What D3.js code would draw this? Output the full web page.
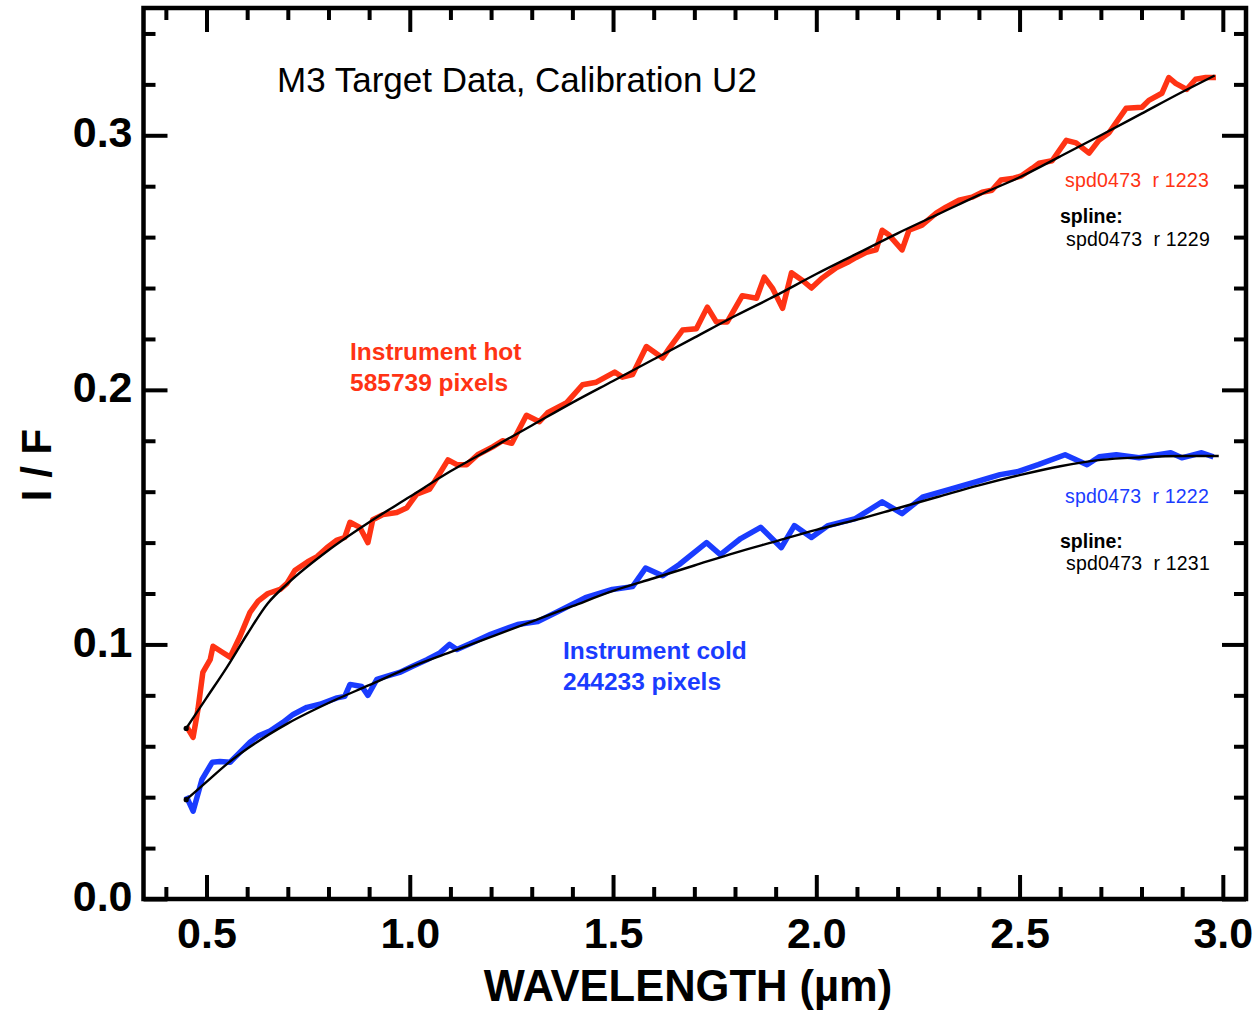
<!DOCTYPE html>
<html>
<head>
<meta charset="utf-8">
<script src="https://cdn.jsdelivr.net/npm/d3@7"></script>
<style>
  html, body { margin: 0; padding: 0; background: #ffffff; }
  svg { display: block; }
  text { font-family: "Liberation Sans", Arial, Helvetica, sans-serif; }
</style>
</head>
<body>
<svg id="chart" width="1260" height="1010"></svg>
<script>
// ---------------- DATA ----------------
const xMajorTicks = [0.5, 1.0, 1.5, 2.0, 2.5, 3.0];
const xTickLabels = ["0.5", "1.0", "1.5", "2.0", "2.5", "3.0"];
const yMajorTicks = [0.0, 0.1, 0.2, 0.3];
const yTickLabels = ["0.0", "0.1", "0.2", "0.3"];

// Instrument hot (red) measured spectrum: [wavelength µm, I/F]
const hotWave = [0.450,0.467,0.479,0.491,0.509,0.516,0.538,0.558,0.582,0.607,0.627,0.651,0.681,0.698,0.717,0.749,0.772,0.796,0.821,0.840,0.853,0.877,0.897,0.909,0.934,0.968,0.993,1.017,1.049,1.069,1.094,1.116,1.140,1.167,1.204,1.228,1.251,1.287,1.319,1.339,1.386,1.425,1.459,1.504,1.523,1.548,1.582,1.622,1.639,1.671,1.705,1.732,1.754,1.781,1.818,1.853,1.872,1.892,1.917,1.939,1.966,1.988,2.015,2.049,2.076,2.098,2.123,2.147,2.162,2.179,2.211,2.228,2.260,2.295,2.319,2.351,2.383,2.408,2.432,2.454,2.482,2.504,2.531,2.548,2.580,2.615,2.639,2.671,2.695,2.720,2.762,2.801,2.818,2.850,2.867,2.884,2.911,2.933,2.958,2.983];
const hotIF   = [0.0680,0.0635,0.0745,0.0890,0.0940,0.0993,0.0970,0.0950,0.1030,0.1126,0.1170,0.1200,0.1216,0.1240,0.1290,0.1325,0.1345,0.1380,0.1410,0.1420,0.1480,0.1460,0.1400,0.1490,0.1510,0.1518,0.1537,0.1590,0.1610,0.1660,0.1725,0.1706,0.1706,0.1745,0.1776,0.1800,0.1790,0.1900,0.1875,0.1910,0.1950,0.2020,0.2030,0.2070,0.2050,0.2060,0.2170,0.2125,0.2165,0.2235,0.2240,0.2325,0.2267,0.2267,0.2370,0.2360,0.2443,0.2400,0.2320,0.2460,0.2430,0.2400,0.2440,0.2480,0.2500,0.2520,0.2540,0.2550,0.2627,0.2608,0.2550,0.2627,0.2647,0.2694,0.2718,0.2745,0.2757,0.2776,0.2784,0.2824,0.2830,0.2840,0.2870,0.2890,0.2900,0.2980,0.2970,0.2930,0.2980,0.3010,0.3106,0.3110,0.3137,0.3165,0.3227,0.3204,0.3180,0.3220,0.3227,0.3227];

// Instrument hot spline fit (black)
const hotSplineWave = [0.45,0.50,0.55,0.60,0.65,0.70,0.80,0.90,1.00,1.10,1.20,1.30,1.40,1.50,1.60,1.70,1.80,1.90,2.00,2.10,2.20,2.30,2.40,2.50,2.60,2.70,2.80,2.90,2.98];
const hotSplineIF   = [0.067,0.079,0.091,0.104,0.116,0.124,0.137,0.148,0.158,0.168,0.177,0.186,0.195,0.2035,0.212,0.2205,0.229,0.237,0.2455,0.2535,0.2615,0.269,0.2765,0.2835,0.2917,0.300,0.3085,0.317,0.3235];

// Instrument cold (blue) measured spectrum
const coldWave = [0.450,0.467,0.489,0.514,0.533,0.558,0.582,0.607,0.627,0.656,0.688,0.713,0.747,0.779,0.821,0.840,0.853,0.882,0.897,0.919,0.943,0.975,1.007,1.042,1.074,1.098,1.116,1.155,1.199,1.265,1.315,1.366,1.432,1.498,1.548,1.580,1.622,1.663,1.730,1.764,1.814,1.863,1.914,1.946,1.988,2.029,2.096,2.162,2.211,2.263,2.330,2.396,2.452,2.494,2.546,2.612,2.666,2.696,2.738,2.794,2.872,2.899,2.948,2.977];
const coldIF   = [0.0404,0.0345,0.0470,0.0537,0.0540,0.0537,0.0576,0.0616,0.0640,0.0660,0.0694,0.0725,0.0753,0.0765,0.0790,0.0796,0.0843,0.0835,0.0800,0.0863,0.0875,0.0890,0.0914,0.0940,0.0967,0.1000,0.0980,0.1008,0.1040,0.1078,0.1090,0.1130,0.1184,0.1216,0.1227,0.1300,0.1270,0.1314,0.1400,0.1353,0.1416,0.1460,0.1380,0.1467,0.1420,0.1467,0.1494,0.1560,0.1514,0.1580,0.1610,0.1640,0.1667,0.1678,0.1706,0.1745,0.1706,0.1737,0.1745,0.1733,0.1753,0.1733,0.1753,0.1737];

// Instrument cold spline fit (black)
const coldSplineWave = [0.45,0.50,0.55,0.60,0.70,0.80,0.90,1.00,1.10,1.20,1.30,1.40,1.50,1.60,1.70,1.80,1.90,2.00,2.10,2.20,2.30,2.40,2.50,2.60,2.70,2.80,2.90,2.99];
const coldSplineIF   = [0.039,0.046,0.053,0.059,0.069,0.077,0.084,0.091,0.097,0.103,0.109,0.115,0.121,0.126,0.131,0.136,0.1405,0.145,0.149,0.1535,0.158,0.1625,0.1665,0.170,0.1725,0.1735,0.174,0.174];

// ---------------- CHART ----------------
const RED = "#ff3314";
const BLUE = "#1a3cff";
const svg = d3.select("#chart");

const x = d3.scaleLinear().domain([0.345, 3.057]).range([143.5, 1246]);
const y = d3.scaleLinear().domain([0, 0.35]).range([899, 8]);

const zip = (a, b) => a.map((v, i) => [v, b[i]]);
const line = d3.line().x(d => x(d[0])).y(d => y(d[1]));
const smooth = d3.line().x(d => x(d[0])).y(d => y(d[1])).curve(d3.curveMonotoneX);

// data lines
svg.append("path").datum(zip(hotWave, hotIF))
  .attr("d", line).attr("fill", "none").attr("stroke", RED)
  .attr("stroke-width", 5.5).attr("stroke-linejoin", "round");
svg.append("path").datum(zip(coldWave, coldIF))
  .attr("d", line).attr("fill", "none").attr("stroke", BLUE)
  .attr("stroke-width", 5.5).attr("stroke-linejoin", "round");

// spline fits
[[hotSplineWave, hotSplineIF], [coldSplineWave, coldSplineIF]].forEach(([w, v]) => {
  svg.append("path").datum(zip(w, v))
    .attr("d", smooth).attr("fill", "none").attr("stroke", "#000")
    .attr("stroke-width", 2.4);
  svg.append("circle").attr("cx", x(w[0])).attr("cy", y(v[0])).attr("r", 2.6).attr("fill", "#000");
});

// axes (ticks inward on all four sides)
const xMinor = d3.range(4, 31).map(d => d / 10).filter(d => !xMajorTicks.some(m => Math.abs(m - d) < 1e-9));
const yMinor = d3.range(1, 18).map(d => d * 0.02).filter(d => !yMajorTicks.some(m => Math.abs(m - d) < 1e-9));

function styleAxis(g) {
  g.select(".domain").remove();
  g.selectAll(".tick line").attr("stroke", "#000").attr("stroke-width", 4);
}

const yb = y(0), yt = y(0.35), xl = x(0.345), xr = x(3.057);

// bottom
svg.append("g").attr("transform", `translate(0,${yb})`)
  .call(d3.axisBottom(x).tickValues(xMajorTicks).tickSizeInner(-24).tickSizeOuter(0)
    .tickPadding(18).tickFormat((d, i) => xTickLabels[i]))
  .call(styleAxis)
  .call(g => g.selectAll("text").attr("fill", "#000").attr("font-size", 43).attr("font-weight", "bold").attr("dy", "0.71em"));
svg.append("g").attr("transform", `translate(0,${yb})`)
  .call(d3.axisBottom(x).tickValues(xMinor).tickSizeInner(-12).tickSizeOuter(0).tickFormat(""))
  .call(styleAxis);
// top
svg.append("g").attr("transform", `translate(0,${yt})`)
  .call(d3.axisTop(x).tickValues(xMajorTicks).tickSizeInner(-24).tickSizeOuter(0).tickFormat(""))
  .call(styleAxis);
svg.append("g").attr("transform", `translate(0,${yt})`)
  .call(d3.axisTop(x).tickValues(xMinor).tickSizeInner(-12).tickSizeOuter(0).tickFormat(""))
  .call(styleAxis);
// left
svg.append("g").attr("transform", `translate(${xl},0)`)
  .call(d3.axisLeft(y).tickValues(yMajorTicks).tickSizeInner(-24).tickSizeOuter(0)
    .tickPadding(11).tickFormat((d, i) => yTickLabels[i]))
  .call(styleAxis)
  .call(g => g.selectAll("text").attr("fill", "#000").attr("font-size", 43).attr("font-weight", "bold").attr("dy", "0.27em"));
svg.append("g").attr("transform", `translate(${xl},0)`)
  .call(d3.axisLeft(y).tickValues(yMinor).tickSizeInner(-12).tickSizeOuter(0).tickFormat(""))
  .call(styleAxis);
// right
svg.append("g").attr("transform", `translate(${xr},0)`)
  .call(d3.axisRight(y).tickValues(yMajorTicks).tickSizeInner(-24).tickSizeOuter(0).tickFormat(""))
  .call(styleAxis);
svg.append("g").attr("transform", `translate(${xr},0)`)
  .call(d3.axisRight(y).tickValues(yMinor).tickSizeInner(-12).tickSizeOuter(0).tickFormat(""))
  .call(styleAxis);

// frame
svg.append("rect").attr("x", xl).attr("y", yt).attr("width", xr - xl).attr("height", yb - yt)
  .attr("fill", "none").attr("stroke", "#000").attr("stroke-width", 4.5);

// axis titles
svg.append("text").attr("x", 688).attr("y", 1001).attr("text-anchor", "middle")
  .attr("font-size", 43.5).attr("font-weight", "bold").text("WAVELENGTH (µm)");
svg.append("text").attr("transform", "translate(51,465) rotate(-90)").attr("text-anchor", "middle")
  .attr("font-size", 42).attr("font-weight", "bold").text("I / F");

// annotations
svg.append("text").attr("x", 277).attr("y", 92).attr("font-size", 35).attr("fill", "#000")
  .text("M3 Target Data, Calibration U2");

svg.append("text").attr("x", 350).attr("y", 360).attr("font-size", 24.5).attr("font-weight", "bold")
  .attr("fill", RED).text("Instrument hot");
svg.append("text").attr("x", 350).attr("y", 391).attr("font-size", 24.5).attr("font-weight", "bold")
  .attr("fill", RED).text("585739 pixels");

svg.append("text").attr("x", 563).attr("y", 659).attr("font-size", 24.5).attr("font-weight", "bold")
  .attr("fill", BLUE).text("Instrument cold");
svg.append("text").attr("x", 563).attr("y", 690).attr("font-size", 24.5).attr("font-weight", "bold")
  .attr("fill", BLUE).text("244233 pixels");

const small = (xx, yy, txt, col, bold) => svg.append("text").attr("x", xx).attr("y", yy)
  .attr("font-size", 19.5).attr("fill", col).attr("font-weight", bold ? "bold" : "normal")
  .attr("letter-spacing", bold ? 0 : 0.2)
  .attr("xml:space", "preserve").style("white-space", "pre").text(txt);

small(1065, 187, "spd0473  r 1223", RED, false);
small(1060, 223, "spline:", "#000", true);
small(1066, 246, "spd0473  r 1229", "#000", false);

small(1065, 503, "spd0473  r 1222", BLUE, false);
small(1060, 548, "spline:", "#000", true);
small(1066, 570, "spd0473  r 1231", "#000", false);
</script>
</body>
</html>
